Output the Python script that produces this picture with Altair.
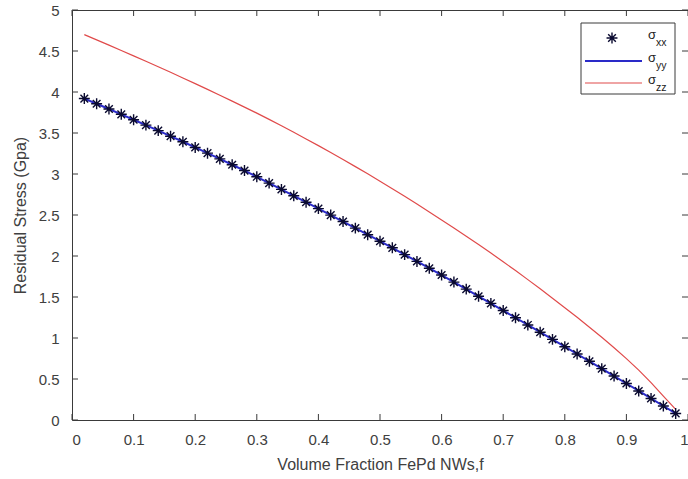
import altair as alt
import pandas as pd

# ---------------- data ----------------
f = [0.02, 0.04, 0.06, 0.08, 0.10, 0.12, 0.14, 0.16, 0.18, 0.20,
     0.22, 0.24, 0.26, 0.28, 0.30, 0.32, 0.34, 0.36, 0.38, 0.40,
     0.42, 0.44, 0.46, 0.48, 0.50, 0.52, 0.54, 0.56, 0.58, 0.60,
     0.62, 0.64, 0.66, 0.68, 0.70, 0.72, 0.74, 0.76, 0.78, 0.80,
     0.82, 0.84, 0.86, 0.88, 0.90, 0.92, 0.94, 0.96, 0.98]

sigma_xx = [3.920, 3.857, 3.793, 3.728, 3.662, 3.596, 3.529, 3.461, 3.393, 3.324,
            3.254, 3.184, 3.113, 3.042, 2.966, 2.889, 2.812, 2.734, 2.656, 2.578,
            2.499, 2.420, 2.340, 2.260, 2.180, 2.100, 2.017, 1.934, 1.851, 1.768,
            1.682, 1.596, 1.509, 1.422, 1.335, 1.247, 1.159, 1.071, 0.983, 0.894,
            0.805, 0.716, 0.626, 0.536, 0.445, 0.354, 0.263, 0.171, 0.080]

sigma_yy = [3.920, 3.857, 3.793, 3.728, 3.662, 3.596, 3.529, 3.461, 3.393, 3.324,
            3.254, 3.184, 3.113, 3.042, 2.966, 2.889, 2.812, 2.734, 2.656, 2.578,
            2.499, 2.420, 2.340, 2.260, 2.180, 2.100, 2.017, 1.934, 1.851, 1.768,
            1.682, 1.596, 1.509, 1.422, 1.335, 1.247, 1.159, 1.071, 0.983, 0.894,
            0.805, 0.716, 0.626, 0.536, 0.445, 0.354, 0.263, 0.171, 0.080]

sigma_zz = [4.700, 4.636, 4.572, 4.507, 4.441, 4.375, 4.308, 4.240, 4.171, 4.102,
            4.032, 3.961, 3.889, 3.816, 3.742, 3.666, 3.588, 3.509, 3.428, 3.346,
            3.262, 3.177, 3.090, 3.002, 2.912, 2.821, 2.728, 2.634, 2.538, 2.440,
            2.342, 2.242, 2.140, 2.036, 1.930, 1.822, 1.712, 1.600, 1.486, 1.370,
            1.252, 1.132, 1.009, 0.882, 0.749, 0.608, 0.456, 0.290, 0.130]

x_ticks = [0, 0.1, 0.2, 0.3, 0.4, 0.5, 0.6, 0.7, 0.8, 0.9, 1.0]
y_ticks = [0, 0.5, 1, 1.5, 2, 2.5, 3, 3.5, 4, 4.5, 5]

x_title = "Volume Fraction FePd NWs,f"
y_title = "Residual Stress (Gpa)"
legend_sub = ["xx", "yy", "zz"]

# ---------------- layout ----------------
W, H = 616, 410
FONT = "Liberation Sans"
AX = "#3a3a3a"
BLUE = "#2a2ac8"
RED = "#e04a4a"
STAR = "M-1,0L1,0M0,-1L0,1M-0.7,-0.7L0.7,0.7M-0.7,0.7L0.7,-0.7"

df = pd.DataFrame({"f": f, "sxx": sigma_xx, "syy": sigma_yy, "szz": sigma_zz})
xs = alt.Scale(domain=[0, 1], nice=False, zero=False)
ys = alt.Scale(domain=[0, 5], nice=False, zero=False)

base = alt.Chart(df)

blue_line = base.mark_line(color=BLUE, strokeWidth=2).encode(
    x=alt.X("f:Q", scale=xs,
            axis=alt.Axis(values=x_ticks, format="~g", title=x_title,
                          labelPadding=12, titlePadding=9)),
    y=alt.Y("syy:Q", scale=ys,
            axis=alt.Axis(values=y_ticks, format="~g", title=y_title,
                          labelPadding=13, titlePadding=10)),
)
red_line = base.mark_line(color=RED, strokeWidth=1.2).encode(
    x=alt.X("f:Q", scale=xs), y=alt.Y("szz:Q", scale=ys))
stars = base.mark_point(shape=STAR, filled=False, size=120, strokeWidth=1.4,
                        color="#0a0a30", opacity=1).encode(
    x=alt.X("f:Q", scale=xs), y=alt.Y("sxx:Q", scale=ys))

xt = alt.Chart(pd.DataFrame({"t": x_ticks}))
yt = alt.Chart(pd.DataFrame({"t": y_ticks}))
TL = 6
tick_bottom = xt.mark_rule(color=AX, strokeWidth=1).encode(
    x=alt.X("t:Q", scale=xs), y=alt.value(H), y2=alt.value(H - TL))
tick_top = xt.mark_rule(color=AX, strokeWidth=1).encode(
    x=alt.X("t:Q", scale=xs), y=alt.value(0), y2=alt.value(TL))
tick_left = yt.mark_rule(color=AX, strokeWidth=1).encode(
    y=alt.Y("t:Q", scale=ys), x=alt.value(0), x2=alt.value(TL))
tick_right = yt.mark_rule(color=AX, strokeWidth=1).encode(
    y=alt.Y("t:Q", scale=ys), x=alt.value(W - TL), x2=alt.value(W))

one = alt.Chart(pd.DataFrame({"k": [0]}))
leg_box = one.mark_rect(fill="white", stroke=AX, strokeWidth=1).encode(
    x=alt.value(509), x2=alt.value(603), y=alt.value(13), y2=alt.value(84))
leg_star = one.mark_point(shape=STAR, filled=False, size=120, strokeWidth=1.4,
                          color="#0a0a30", opacity=1).encode(
    x=alt.value(540), y=alt.value(28))
leg_blue = one.mark_rule(color=BLUE, strokeWidth=2).encode(
    x=alt.value(513), x2=alt.value(570), y=alt.value(51))
leg_red = one.mark_rule(color=RED, strokeWidth=1.2).encode(
    x=alt.value(513), x2=alt.value(570), y=alt.value(73))

leg_texts = []
for i, sub in enumerate(legend_sub):
    yy = 28 + 22.5 * i
    leg_texts.append(one.mark_text(text="σ", align="left", baseline="middle",
                                   fontSize=13, font=FONT, color="#222222").encode(
        x=alt.value(576), y=alt.value(yy - 3)))
    leg_texts.append(one.mark_text(text=sub, align="left", baseline="middle",
                                   fontSize=10.5, font=FONT, color="#222222").encode(
        x=alt.value(584), y=alt.value(yy + 5)))

chart = alt.layer(
    blue_line, red_line, stars,
    tick_bottom, tick_top, tick_left, tick_right,
    leg_box, leg_star, leg_blue, leg_red, *leg_texts,
).properties(
    width=W, height=H,
    background="white",
    autosize=alt.AutoSizeParams(type="none"),
    padding={"left": 72, "top": 10, "right": 0, "bottom": 59},
).configure_view(
    stroke=AX, strokeWidth=1
).configure_axis(
    grid=False, ticks=False, tickSize=0, domain=False,
    labelFont=FONT, labelFontSize=15, labelColor="#404040",
    titleFont=FONT, titleFontSize=16, titleColor="#404040",
    titleFontWeight="normal",
)

chart.save("out.html", embed_options={"renderer": "svg", "actions": False})
